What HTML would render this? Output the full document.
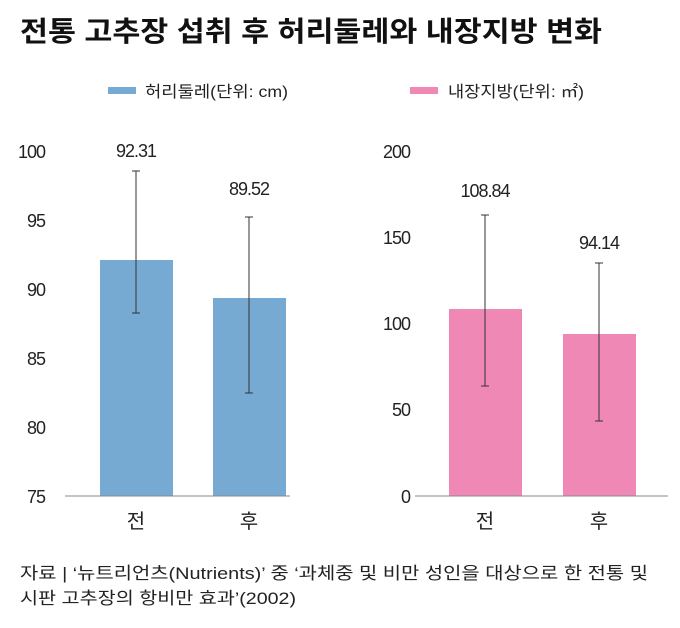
<!DOCTYPE html>
<html><head><meta charset="utf-8"><style>
body{margin:0;background:#fff;width:680px;height:623px;overflow:hidden;font-family:"Liberation Sans","Noto Sans CJK KR",sans-serif;}
</style></head><body>
<svg width="680" height="623" xmlns="http://www.w3.org/2000/svg" style="font-family:'Liberation Sans','Noto Sans CJK KR',sans-serif">
<text x="20" y="41" font-size="28" font-weight="bold" fill="#111" textLength="582" lengthAdjust="spacingAndGlyphs">전통 고추장 섭취 후 허리둘레와 내장지방 변화</text>
<rect x="108" y="87" width="28" height="7" fill="#76aad3"/>
<text x="145" y="97" font-size="16" fill="#222" textLength="143" lengthAdjust="spacingAndGlyphs">허리둘레(단위: cm)</text>
<rect x="410" y="87" width="28" height="7" fill="#f088b6"/>
<text x="448" y="97" font-size="16" fill="#222" textLength="136" lengthAdjust="spacingAndGlyphs">내장지방(단위: ㎡)</text>
<g font-size="18" fill="#222" text-anchor="end" letter-spacing="-1">
<text x="45" y="158">100</text><text x="45" y="227">95</text><text x="45" y="296">90</text>
<text x="45" y="365">85</text><text x="45" y="434">80</text><text x="45" y="503">75</text>
<text x="410" y="158">200</text><text x="410" y="244">150</text><text x="410" y="330">100</text>
<text x="410" y="416">50</text><text x="410" y="503">0</text>
</g>
<rect x="100" y="260" width="73" height="236" fill="#76aad3"/>
<rect x="213" y="298" width="73" height="198" fill="#76aad3"/>
<rect x="449" y="309" width="73" height="187" fill="#f088b6"/>
<rect x="563" y="334" width="73" height="162" fill="#f088b6"/>
<line x1="65" y1="496" x2="290" y2="496" stroke="#888" stroke-width="1"/>
<line x1="415" y1="496" x2="668" y2="496" stroke="#888" stroke-width="1"/>
<g stroke="#333" stroke-width="1">
<line x1="136" y1="171" x2="136" y2="313"/><line x1="132" y1="171" x2="140" y2="171"/><line x1="132" y1="313" x2="140" y2="313"/>
<line x1="249" y1="217" x2="249" y2="393"/><line x1="245" y1="217" x2="253" y2="217"/><line x1="245" y1="393" x2="253" y2="393"/>
<line x1="485" y1="215" x2="485" y2="386"/><line x1="481" y1="215" x2="489" y2="215"/><line x1="481" y1="386" x2="489" y2="386"/>
<line x1="599" y1="263" x2="599" y2="421"/><line x1="595" y1="263" x2="603" y2="263"/><line x1="595" y1="421" x2="603" y2="421"/>
</g>
<g font-size="18" fill="#222" text-anchor="middle" letter-spacing="-1">
<text x="136" y="157">92.31</text><text x="249" y="195">89.52</text>
<text x="485" y="197">108.84</text><text x="599" y="249">94.14</text>
</g>
<g font-size="20" fill="#222" text-anchor="middle">
<text x="136" y="528">전</text><text x="249" y="528">후</text>
<text x="485" y="528">전</text><text x="599" y="528">후</text>
</g>
<text x="20" y="579" font-size="17" fill="#222" textLength="628" lengthAdjust="spacingAndGlyphs">자료 | ‘뉴트리언츠(Nutrients)’ 중 ‘과체중 및 비만 성인을 대상으로 한 전통 및</text>
<text x="20" y="604" font-size="17" fill="#222" textLength="276" lengthAdjust="spacingAndGlyphs">시판 고추장의 항비만 효과’(2002)</text>
</svg>
</body></html>
